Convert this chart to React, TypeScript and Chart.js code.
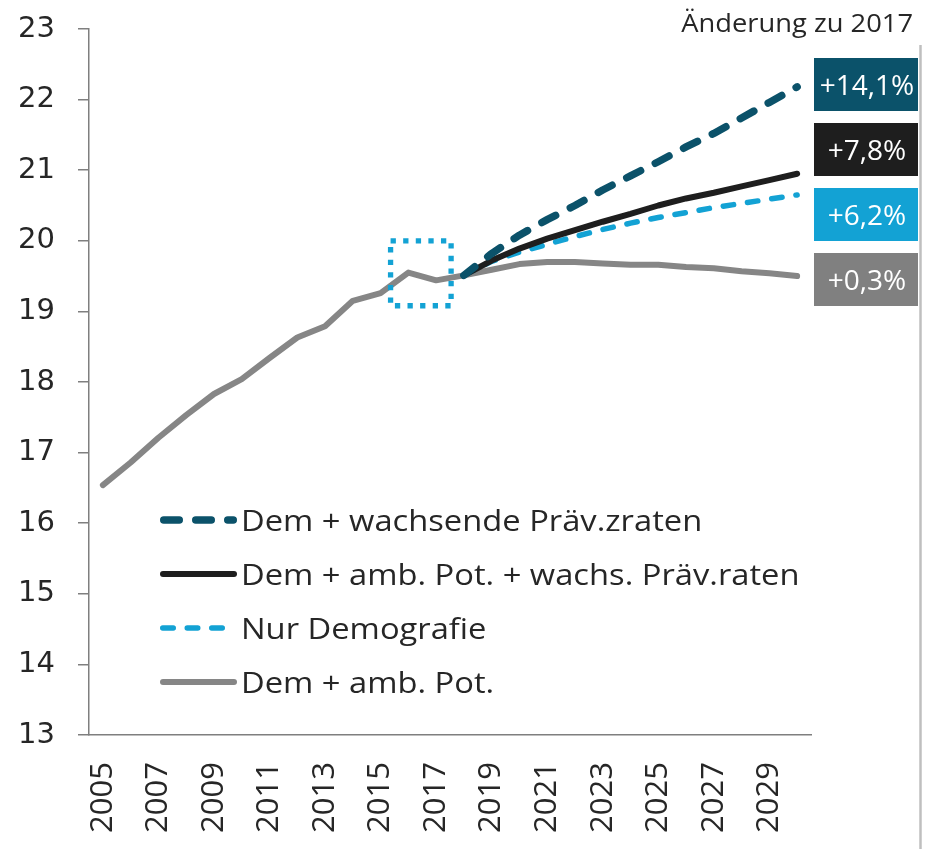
import { useEffect, useRef } from "react";
import { Chart, registerables } from "chart.js";

Chart.register(...registerables);

// ---------- data ----------
const YEARS = [
  "2005", "2006", "2007", "2008", "2009", "2010", "2011", "2012", "2013",
  "2014", "2015", "2016", "2017", "2018", "2019", "2020", "2021", "2022",
  "2023", "2024", "2025", "2026", "2027", "2028", "2029", "2030",
];

const DEM_AMB_POT = [
  16.54, 16.86, 17.21, 17.53, 17.83, 18.04, 18.34, 18.63, 18.79, 19.15, 19.26,
  19.55, 19.44, 19.51, 19.59, 19.67, 19.7, 19.7, 19.68, 19.66, 19.66, 19.63,
  19.61, 19.57, 19.54, 19.5,
];

const N = null;
const DEM_WACHSENDE = [
  N, N, N, N, N, N, N, N, N, N, N, N, N,
  19.51, 19.82, 20.08, 20.3, 20.5, 20.72, 20.92, 21.12, 21.33, 21.52, 21.74, 21.96, 22.18,
];
const DEM_AMB_WACHS = [
  N, N, N, N, N, N, N, N, N, N, N, N, N,
  19.51, 19.72, 19.89, 20.03, 20.15, 20.27, 20.38, 20.5, 20.6, 20.68, 20.77, 20.86, 20.95,
];
const NUR_DEMOGRAFIE = [
  N, N, N, N, N, N, N, N, N, N, N, N, N,
  19.51, 19.71, 19.84, 19.95, 20.06, 20.16, 20.25, 20.33, 20.4, 20.47, 20.53, 20.59, 20.65,
];

const SERIES_LABELS = [
  "Dem + wachsende Präv.zraten",
  "Dem + amb. Pot. + wachs. Präv.raten",
  "Nur Demografie",
  "Dem + amb. Pot.",
];
const CHANGE_LABELS = ["+14,1%", "+7,8%", "+6,2%", "+0,3%"];
const CHANGE_TITLE = "Änderung zu 2017";

const Y_MIN = 13;
const Y_MAX = 23;

// highlighted region (category index / value units)
const HILITE_X = [10.36, 12.54];
const HILITE_Y = [19.08, 20.0];

// ---------- styles ----------
const C_TEAL = "#0b526a";
const C_BLACK = "#1e1e1e";
const C_BLUE = "#13a2d4";
const C_GRAY = "#868686";
const C_TEXT = "#262626";
const C_AXIS = "#7f7f7f";

const STYLES = [
  { color: C_TEAL, width: 7.5, dash: [15.5, 16.5], dashOffset: 1.6 },
  { color: C_BLACK, width: 6, dash: [] as number[], dashOffset: 0 },
  { color: C_BLUE, width: 5.5, dash: [10.5, 14], dashOffset: 0 },
  { color: C_GRAY, width: 6, dash: [] as number[], dashOffset: 0 },
];
const BOX_COLORS = [C_TEAL, C_BLACK, C_BLUE, "#808080"];

function stretchedText(
  ctx: CanvasRenderingContext2D,
  text: string,
  x: number,
  y: number,
  sx: number,
  align: CanvasTextAlign
) {
  ctx.save();
  ctx.translate(x, y);
  ctx.scale(sx, 1);
  ctx.textAlign = align;
  ctx.textBaseline = "alphabetic";
  ctx.fillText(text, 0, 0);
  ctx.restore();
}

const overlayPlugin = {
  id: "overlay",
  afterDatasetsDraw(chart: any) {
    const { ctx, scales } = chart;
    const xs = scales.x;
    const ys = scales.y;
    const x0 = xs.getPixelForValue(HILITE_X[0]);
    const x1 = xs.getPixelForValue(HILITE_X[1]);
    const y0 = ys.getPixelForValue(HILITE_Y[1]);
    const y1 = ys.getPixelForValue(HILITE_Y[0]);
    ctx.save();
    ctx.strokeStyle = C_BLUE;
    ctx.lineWidth = 5.3;
    ctx.setLineDash([5.3, 7.3]);
    ctx.lineCap = "butt";
    ctx.strokeRect(x0, y0, x1 - x0, y1 - y0);
    ctx.restore();
  },
  afterDraw(chart: any) {
    const { ctx, chartArea } = chart;
    ctx.save();

    // legend inside plot
    const lgX0 = chartArea.left + 71;
    const lgX1 = lgX0 + 77;
    const lgTextX = lgX1 + 4;
    const lgY0 = chartArea.top + 491;
    const lgStep = 54;
    ctx.font = "30px 'Open Sans'";
    ctx.fillStyle = C_TEXT;
    SERIES_LABELS.forEach((label, i) => {
      const st = STYLES[i];
      const y = lgY0 + i * lgStep;
      ctx.save();
      ctx.strokeStyle = st.color;
      ctx.lineWidth = st.width;
      ctx.lineCap = "round";
      ctx.setLineDash(st.dash);
      ctx.beginPath();
      ctx.moveTo(lgX0 + st.width / 2, y);
      ctx.lineTo(lgX1 - st.width / 2, y);
      ctx.stroke();
      ctx.restore();
      stretchedText(ctx, label, lgTextX, y + 10.7, 1.09, "left");
    });

    // change boxes on the right
    const bx = chartArea.right + 3;
    const bw = 104;
    const bh = 53;
    const bStep = 65;
    const bTop = chartArea.top + 29;
    CHANGE_LABELS.forEach((label, i) => {
      const top = bTop + i * bStep;
      ctx.fillStyle = BOX_COLORS[i];
      ctx.fillRect(bx, top, bw, bh);
      ctx.fillStyle = "#ffffff";
      ctx.font = "28px 'Open Sans'";
      stretchedText(ctx, label, bx + bw / 2 + 1, top + bh / 2 + 10, 1, "center");
    });

    // title
    ctx.fillStyle = C_TEXT;
    ctx.font = "26px 'Open Sans'";
    stretchedText(ctx, CHANGE_TITLE, bx + bw - 5, chartArea.top + 3, 1.05, "right");

    // right separator
    ctx.strokeStyle = "#bfbfbf";
    ctx.lineWidth = 2.5;
    ctx.beginPath();
    ctx.moveTo(bx + bw + 2.5, chartArea.top + 16);
    ctx.lineTo(bx + bw + 2.5, chart.height);
    ctx.stroke();

    ctx.restore();
  },
};

export default function App() {
  const canvasRef = useRef<HTMLCanvasElement | null>(null);

  useEffect(() => {
    const canvas = canvasRef.current;
    if (!canvas) return;
    const data = [DEM_WACHSENDE, DEM_AMB_WACHS, NUR_DEMOGRAFIE, DEM_AMB_POT];
    const chart = new Chart(canvas, {
      type: "line",
      data: {
        labels: YEARS,
        datasets: data.map((d, i) => ({
          label: SERIES_LABELS[i],
          data: d,
          borderColor: STYLES[i].color,
          backgroundColor: STYLES[i].color,
          borderWidth: STYLES[i].width,
          borderDash: STYLES[i].dash,
          borderDashOffset: STYLES[i].dashOffset,
          borderCapStyle: "round" as const,
          borderJoinStyle: "round" as const,
          pointRadius: 0,
          pointHoverRadius: 0,
          tension: 0,
          fill: false,
          spanGaps: false,
        })),
      },
      options: {
        responsive: false,
        animation: false,
        devicePixelRatio: 1,
        layout: { padding: { top: 29, right: 119, left: 0, bottom: 0 } },
        plugins: {
          legend: { display: false },
          tooltip: { enabled: false },
          title: { display: false },
        },
        scales: {
          x: {
            type: "category",
            offset: true,
            grid: { display: false, drawTicks: false },
            border: { display: true, color: C_AXIS, width: 1.5 },
            ticks: {
              autoSkip: false,
              maxRotation: 90,
              minRotation: 90,
              padding: 27,
              color: C_TEXT,
              font: { family: "'Open Sans'", size: 31 },
              callback: (_v: any, idx: number) => (idx % 2 === 0 ? YEARS[idx] : ""),
            },
            afterFit: (s: any) => {
              s.height = 114;
            },
          },
          y: {
            min: Y_MIN,
            max: Y_MAX,
            grid: {
              drawOnChartArea: false,
              drawTicks: true,
              tickLength: 11,
              color: C_AXIS,
              lineWidth: 1.5,
            },
            border: { display: true, color: C_AXIS, width: 1.5 },
            ticks: {
              stepSize: 1,
              padding: 23,
              color: C_TEXT,
              font: { family: "'DejaVu Sans'", size: 29 },
            },
            afterFit: (s: any) => {
              s.width = 89;
              s.paddingTop = 0;
              s.paddingBottom = 0;
            },
          },
        },
      },
      plugins: [overlayPlugin],
    } as any);
    return () => chart.destroy();
  }, []);

  return (
    <div style={{ position: "absolute", left: 0, top: 0, width: 930, height: 849, background: "#fff" }}>
      <canvas ref={canvasRef} width={930} height={849} style={{ display: "block" }} />
    </div>
  );
}
